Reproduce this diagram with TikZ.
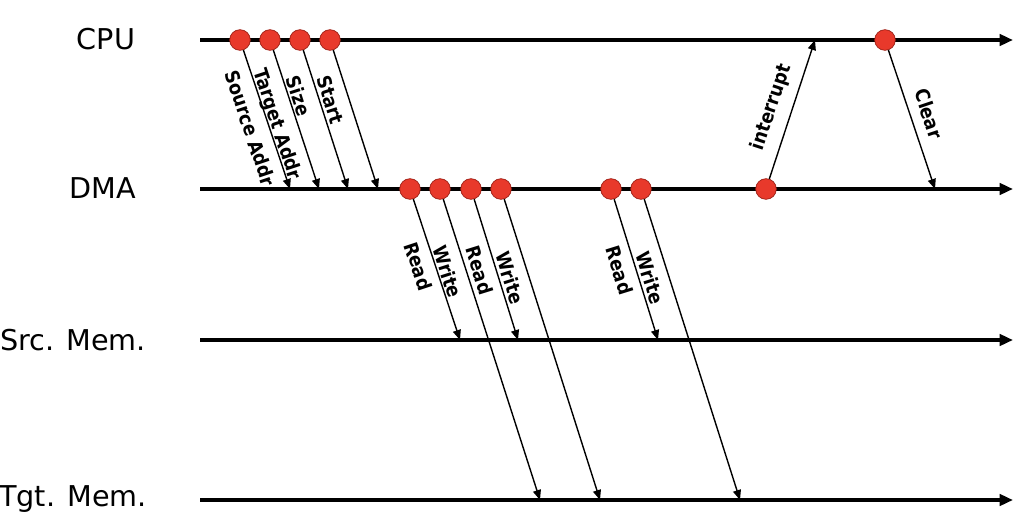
\documentclass[tikz,border=0pt]{standalone}
\usepackage{fontspec}
\setmainfont{DejaVu Sans}
\newfontfamily\lblfont{DejaVu Sans Condensed}
\usetikzlibrary{arrows.meta}
\definecolor{dotred}{HTML}{E8392B}
\definecolor{dotedge}{HTML}{9A1E14}
\tikzset{
  lane/.style={line width=3pt,-{Triangle[length=10pt,width=8.5pt]}},
  msg/.style={line width=1.05pt,-{Triangle[length=7.5pt,width=6pt]}},
  dot/.style={circle,fill=dotred,draw=dotedge,line width=0.5pt,minimum size=15.5pt,inner sep=0pt},
  lanelabel/.style={font=\fontsize{21.5}{24}\selectfont,inner sep=0pt},
  lbl/.style={font=\lblfont\fontsize{14.5}{17}\selectfont\bfseries,inner sep=1pt,sloped},
}
\begin{document}
\begin{tikzpicture}[x=0.75pt,y=-0.75pt]
\useasboundingbox (0,0) rectangle (1014,528);
% lane labels
\node[lanelabel] (lcpu) at (106,39) {CPU};
\node[lanelabel] (ldma) at (103,188) {DMA};
\node[lanelabel] (lsrc) at (73,340) {Src. Mem.};
\node[lanelabel] (ltgt) at (73,499) {Tgt. Mem.};
% lanes
\coordinate (cpuS) at (200,40);  \coordinate (cpuE) at (1013,40);
\coordinate (dmaS) at (200,189); \coordinate (dmaE) at (1013,189);
\coordinate (srcS) at (200,340); \coordinate (srcE) at (1013,340);
\coordinate (tgtS) at (200,500); \coordinate (tgtE) at (1013,500);
\draw[lane] (cpuS) -- (cpuE);
\draw[lane] (dmaS) -- (dmaE);
\draw[lane] (srcS) -- (srcE);
\draw[lane] (tgtS) -- (tgtE);
% event dots
\node[dot] (c1) at (240,40) {};
\node[dot] (c2) at (270,40) {};
\node[dot] (c3) at (300,40) {};
\node[dot] (c4) at (330,40) {};
\node[dot] (c5) at (885,40) {};
\node[dot] (d1) at (410,189) {};
\node[dot] (d2) at (440,189) {};
\node[dot] (d3) at (471,189) {};
\node[dot] (d4) at (501,189) {};
\node[dot] (d5) at (611,189) {};
\node[dot] (d6) at (641,189) {};
\node[dot] (d7) at (766,189) {};
% arrow ends
\coordinate (e1) at (290,189);
\coordinate (e2) at (319,189);
\coordinate (e3) at (348,189);
\coordinate (e4) at (378,189);
\coordinate (s1) at (460,340);
\coordinate (s2) at (518,340);
\coordinate (s3) at (658,340);
\coordinate (t1) at (540,500);
\coordinate (t2) at (600,500);
\coordinate (t3) at (740,500);
\coordinate (ci) at (815,40);
\coordinate (dc) at (935,189);
% messages
\draw[msg] (c1) -- node[lbl,below=6.5pt,pos=0.52] {Source Addr} (e1);
\draw[msg] (c2) -- node[lbl,below=6.5pt,pos=0.49] {Target Addr} (e2);
\draw[msg] (c3) -- node[lbl,below=6.5pt,pos=0.29] {Size} (e3);
\draw[msg] (c4) -- node[lbl,below=6.5pt,pos=0.32] {Start} (e4);
\draw[msg] (d1) -- node[lbl,below=5pt,pos=0.44] {Read} (s1);
\draw[msg] (d2) -- node[lbl,below=6.5pt,pos=0.222] {Write} (t1);
\draw[msg] (d3) -- node[lbl,below=5pt,pos=0.47] {Read} (s2);
\draw[msg] (d4) -- node[lbl,below=6.5pt,pos=0.243] {Write} (t2);
\draw[msg] (d5) -- node[lbl,below=5pt,pos=0.47] {Read} (s3);
\draw[msg] (d6) -- node[lbl,below=6.5pt,pos=0.243] {Write} (t3);
\draw[msg] (d7) -- node[lbl,above=6.5pt,pos=0.47] {interrupt} (ci);
\draw[msg] (c5) -- node[lbl,above=6.5pt,pos=0.5] {Clear} (dc);
\end{tikzpicture}
\end{document}
